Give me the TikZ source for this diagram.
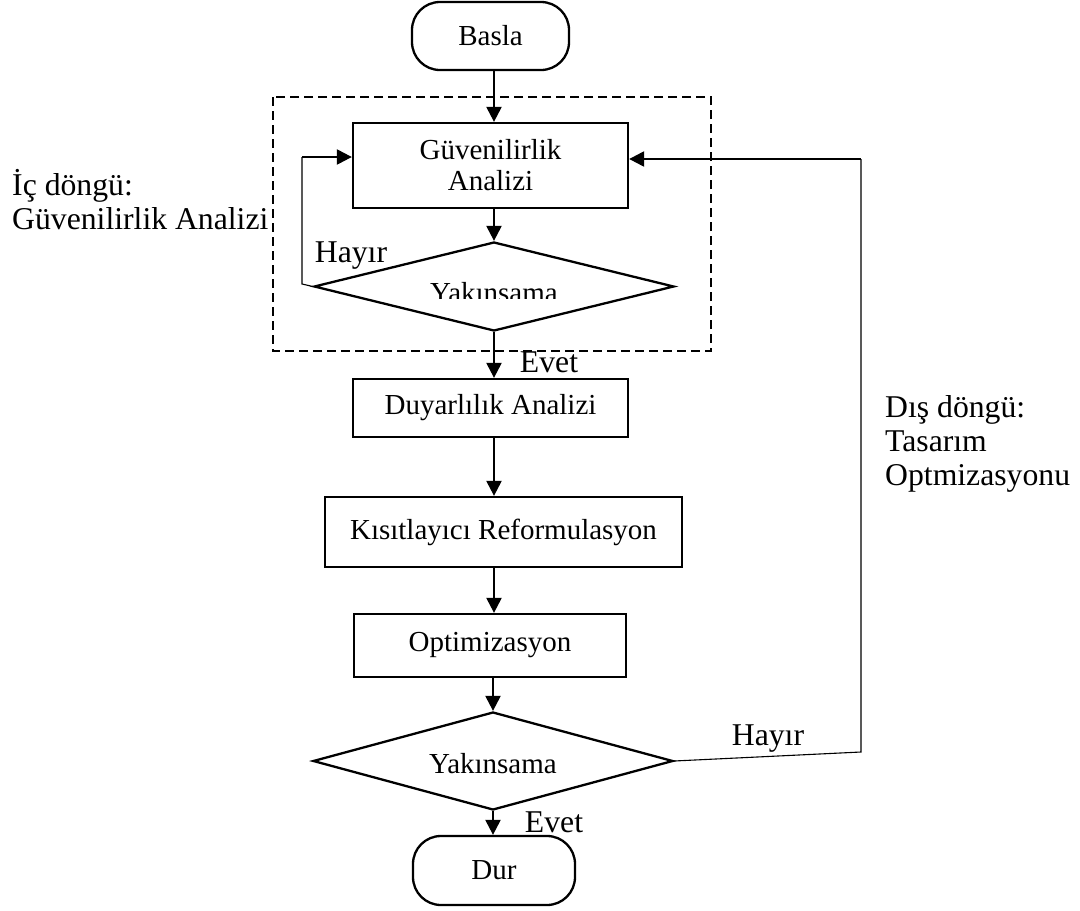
\documentclass[tikz,border=0pt]{standalone}
\usepackage{fontspec}
\setmainfont{Liberation Serif}
\usetikzlibrary{shapes.geometric,arrows.meta}
\begin{document}
\begin{tikzpicture}[x=1pt,y=-1pt,
  thick line/.style={line width=2.3pt},
  thin line/.style={line width=1.1pt},
  arr/.style={thick line,-{Triangle[length=15pt,width=15pt]}},
  boxfont/.style={font=\fontsize{29}{31}\selectfont},
  lblfont/.style={font=\fontsize{31.7}{34}\selectfont},
  procbox/.style={draw,thick line,rectangle,boxfont,inner sep=0pt,align=center},
  termbox/.style={draw,thick line,rectangle,rounded corners=28pt,boxfont,inner sep=0pt},
  decbox/.style={draw,thick line,diamond,inner sep=0pt},
  lbl/.style={lblfont,inner sep=0pt}
]
\useasboundingbox (0,0) rectangle (1080,911);

% dashed inner-loop frame
\draw[thick line,dash pattern=on 9pt off 5pt] (273,97) rectangle (711,351);

% nodes
\node[termbox,minimum width=157pt,minimum height=68pt] (basla) at (490.5,36) {\raisebox{-3pt}{Basla}};
\node[procbox,minimum width=275pt,minimum height=85pt] (gA) at (490.5,165.5) {Güvenilirlik\\Analizi};
\node[decbox,minimum width=360pt,minimum height=89pt] (d1) at (494,286.5) {};
\begin{scope}
  \clip (300,230) rectangle (700,298);
  \node[boxfont,inner sep=0pt,anchor=base] (t1) at (494,302) {Yakınsama};
\end{scope}
\node[procbox,minimum width=275pt,minimum height=58pt] (duy) at (490.5,408) {Duyarlılık Analizi};
\node[procbox,minimum width=357pt,minimum height=70pt] (kis) at (503.5,532) {Kısıtlayıcı Reformulasyon};
\node[procbox,minimum width=272pt,minimum height=63pt] (opt) at (490,645.5) {Optimizasyon};
\node[decbox,minimum width=360pt,minimum height=98pt] (d2) at (493,761) {};
\node[boxfont,inner sep=0pt,anchor=base] (t2) at (493,773) {Yakınsama};
\node[termbox,minimum width=162pt,minimum height=69pt] (dur) at (494,870.5) {\raisebox{-3pt}{Dur}};

% labels
\node[lbl,anchor=base] (hay1) at (351,262) {Hayır};
\node[lbl,anchor=base] (evet1) at (549,372) {Evet};
\node[lbl,anchor=base] (hay2) at (768,745) {Hayır};
\node[lbl,anchor=base] (evet2) at (554,832) {Evet};
\node[lbl,anchor=west,align=left] (ic) at (12,200) {İç döngü:\\Güvenilirlik Analizi};
\node[lbl,anchor=west,align=left] (dis) at (885,444) {Dış döngü:\\Tasarım\\Optmizasyonu};

% loop corner coordinates
\coordinate (c1) at (302,284);
\coordinate (c2) at (302,157);
\coordinate (c3) at (861,752);
\coordinate (c4) at (861,159);

% main flow
\draw[arr] (basla.south -| d1.north) -- (gA.north -| d1.north);
\draw[arr] (gA.south -| d1.north) -- (d1.north);
\draw[arr] (d1.south) -- (duy.north -| d1.south);
\draw[arr] (duy.south -| d1.south) -- (kis.north -| d1.south);
\draw[arr] (kis.south -| d1.south) -- (opt.north -| d1.south);
\draw[arr] (opt.south -| d2.north) -- (d2.north);
\draw[arr] (d2.south) -- (dur.north -| d2.south);

% inner loop
\draw[thin line] (d1.west) -- (c1) -- (c2);
\draw[arr] (c2) -- (gA.west |- c2);

% outer loop
\draw[thin line] (d2.east) -- (c3) -- (c4);
\draw[arr] (c4) -- (gA.east |- c4);
\end{tikzpicture}
\end{document}
